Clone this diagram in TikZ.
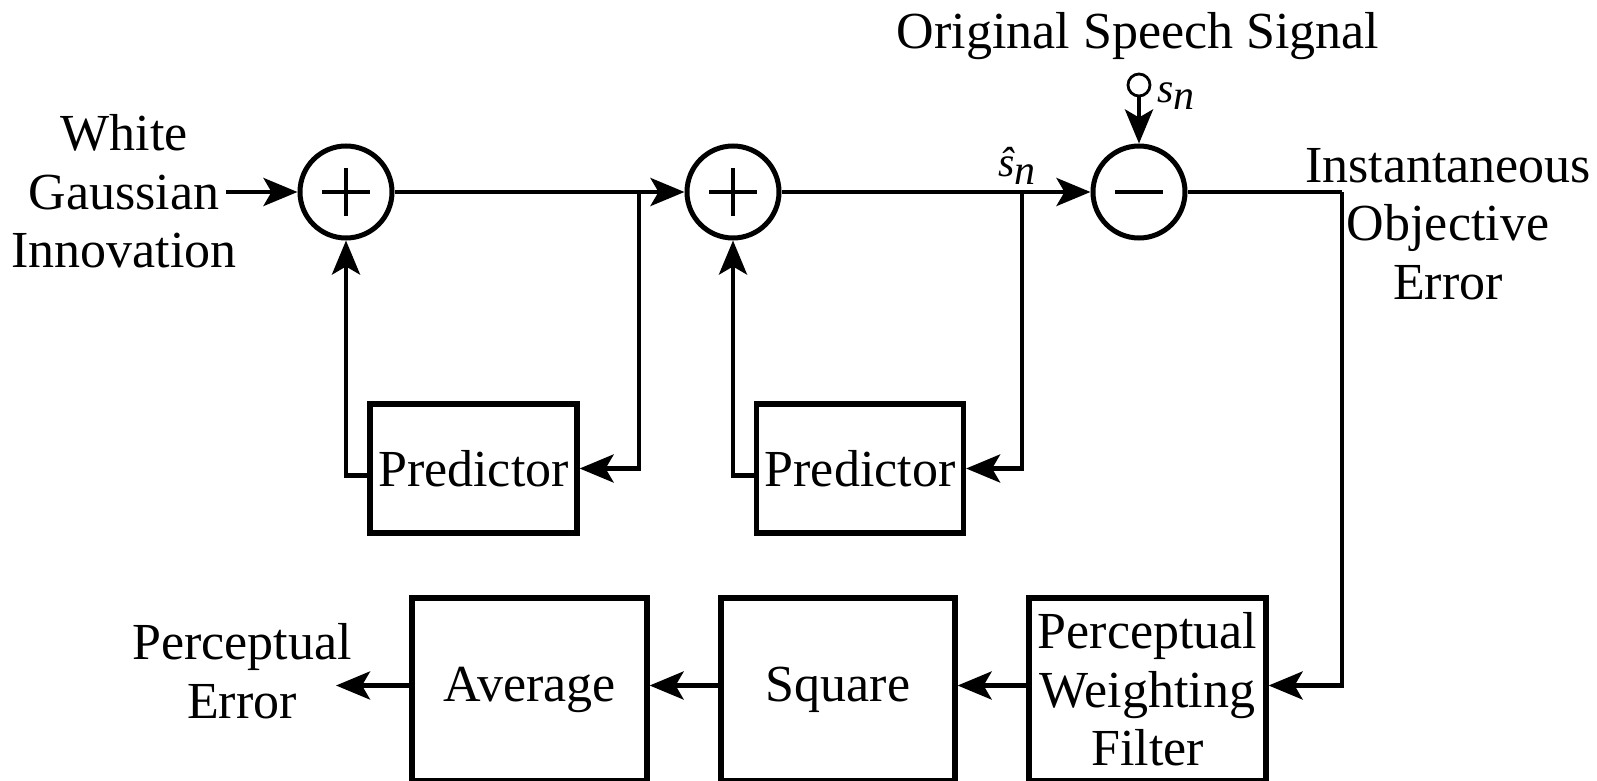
\documentclass[tikz,border=0pt]{standalone}
\usepackage{fontspec}
\setmainfont{LiberationSerif}[Extension=.ttf, UprightFont=*-Regular, ItalicFont=*-Italic, BoldFont=*-Bold, BoldItalicFont=*-BoldItalic]
\usetikzlibrary{arrows.meta,calc}
\newcommand\mysn{{\fontsize{21}{24}\selectfont\itshape s\raisebox{-0.4ex}{n}}}
\newcommand\myshn{{\fontsize{21}{24}\selectfont\itshape ŝ\raisebox{-0.4ex}{n}}}
\begin{document}
\begin{tikzpicture}[x=0.5pt,y=-0.5pt,
  line width=2.2pt,
  >={Stealth[length=17pt,width=14pt,inset=4pt]},
  txt/.style={font=\fontsize{26}{29.3}\selectfont, align=center, inner sep=0pt},
  sumc/.style={circle, draw, line width=2.5pt, minimum size=46pt, inner sep=0pt},
  blk/.style={draw, line width=2.6pt, font=\fontsize{26}{29.3}\selectfont, align=center, inner sep=0pt},
  sign/.style={line width=2pt}]
\useasboundingbox (0,0) rectangle (1597,781);
% summing junctions
\node[sumc] (c1) at (346,192) {};
\node[sumc] (c2) at (733,192) {};
\node[sumc] (c3) at (1139,192) {};
\draw[sign] (c1.center) +(-24,0) -- +(24,0) (c1.center) +(0,-24) -- +(0,24);
\draw[sign] (c2.center) +(-24,0) -- +(24,0) (c2.center) +(0,-24) -- +(0,24);
\draw[sign] (c3.center) +(-24,0) -- +(24,0);
% predictors
\node[blk, minimum width=103.5pt, minimum height=64.5pt] (p1) at (473.5,468.5) {Predictor};
\node[blk, minimum width=103.5pt, minimum height=64.5pt] (p2) at (860,468.5) {Predictor};
% bottom row
\node[blk, minimum width=118.5pt, minimum height=91.5pt] (pwf) at (1147.5,689.5) {Perceptual\\Weighting\\Filter};
\node[blk, minimum width=117pt, minimum height=91.5pt] (sq) at (838,689.5) {Square};
\node[blk, minimum width=117.5pt, minimum height=91.5pt] (avg) at (529.5,689.5) {Average};
% texts
\node[txt] (wgi) at (124,191.5) {White\\Gaussian\\Innovation};
\node[txt] (oss) at (1138,36) {Original Speech Signal};
\node[txt] (ioe) at (1448,224) {Instantaneous\\Objective\\Error};
\node[txt] (pe) at (242,671) {Perceptual\\Error};
\node[inner sep=0pt] (snlab) at (1176,96) {\mysn};
\node[inner sep=0pt] (shlab) at (1017,166) {\myshn};
% input terminal
\node[circle, draw, line width=1.4pt, minimum size=11pt, inner sep=0pt] (sin) at (1139,85) {};
% coordinates
\coordinate (j1) at (639,192);
\coordinate (j2) at (1022,192);
\coordinate (rc) at (1342,192);
\coordinate (rowy) at (0,685.5);
\coordinate (peend) at (336,685.5);
\coordinate (gend) at (226,192);
% connectors
\draw[->] (gend) -- (c1.west);
\draw (c1.east) -- (j1);
\draw[->] (j1) -- (c2.west);
\draw[->] (j1) |- (p1.east);
\draw (c2.east) -- (j2);
\draw[->] (j2) -- (c3.west);
\draw[->] (j2) |- (p2.east);
\draw[->] ($(p1.west)+(0,7)$) -| (c1.south);
\draw[->] ($(p2.west)+(0,7)$) -| (c2.south);
\draw[->] (sin.south) -- (c3.north);
\draw (c3.east) -- (rc);
\draw[->] (rc) |- (pwf.east |- rowy);
\draw[->] (pwf.west |- rowy) -- (sq.east |- rowy);
\draw[->] (sq.west |- rowy) -- (avg.east |- rowy);
\draw[->] (avg.west |- rowy) -- (peend);
\end{tikzpicture}
\end{document}
